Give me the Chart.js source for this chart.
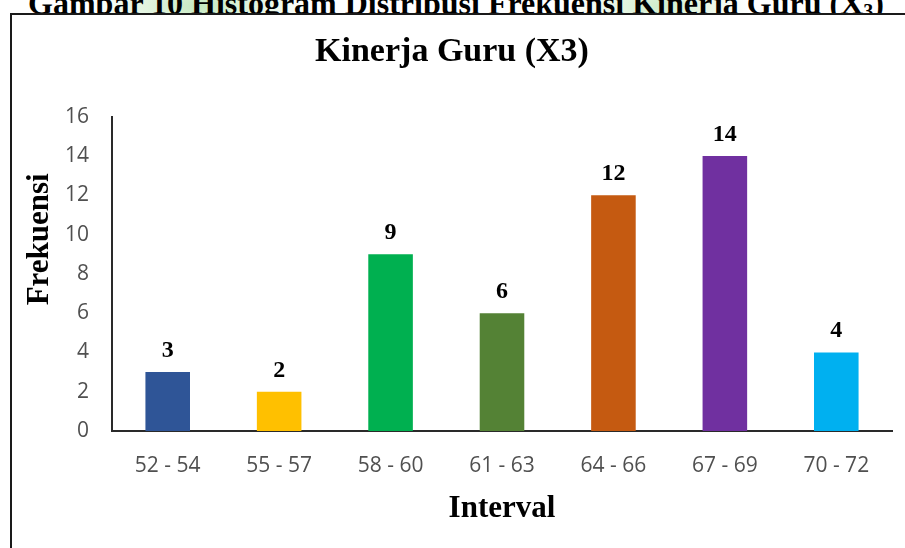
<!DOCTYPE html>
<html>
<head>
<meta charset="utf-8">
<script src="https://cdn.jsdelivr.net/npm/chart.js@4.4.1/dist/chart.umd.min.js"></script>
<style>
  html, body { margin: 0; padding: 0; width: 905px; height: 548px; overflow: hidden; background: #ffffff; }
  #strip {
    position: absolute; left: 0; top: 0; width: 905px; height: 14px;
    background:
      radial-gradient(ellipse 110px 40px at 200px 6px, rgba(150, 215, 140, 0.55), rgba(150, 215, 140, 0) 100%),
      radial-gradient(ellipse 90px 40px at 660px 6px, rgba(150, 215, 140, 0.45), rgba(150, 215, 140, 0) 100%),
      #ffffff;
  }
  #caption {
    position: absolute; left: -4px; top: -13px; width: 920px; text-align: center;
    font-family: "Liberation Serif", "DejaVu Serif", serif; font-weight: bold;
    font-size: 32px; line-height: 32px; color: #000; white-space: nowrap;
  }
  #caption sub { font-size: 20px; vertical-align: -4px; line-height: 0; }
  #frame {
    position: absolute; left: 10px; top: 13px; width: 900px; height: 540px;
    border-left: 2px solid #1a1a1a; border-top: 2px solid #1a1a1a; background: #ffffff;
  }
  #chart { position: absolute; left: 0; top: 0; }
</style>
</head>
<body>
<div id="strip"></div>
<div id="caption">Gambar 10 Histogram Distribusi Frekuensi Kinerja Guru (X<sub>3</sub>)</div>
<div id="frame"></div>
<canvas id="chart" width="905" height="548"></canvas>
<script>
// Score intervals and how many teachers fall into each
const intervals = ["52 - 54", "55 - 57", "58 - 60", "61 - 63", "64 - 66", "67 - 69", "70 - 72"];
const frequencies = [3, 2, 9, 6, 12, 14, 4];
const barColors = ["#2F5597", "#FFC000", "#00B050", "#548235", "#C55A11", "#7030A0", "#00B0F0"];
const yTicks = [0, 2, 4, 6, 8, 10, 12, 14, 16];
const yTitle = "Frekuensi";

const serif = '"Liberation Serif", "DejaVu Serif", serif';
const sans = '"Open Sans", "Liberation Sans", sans-serif';

// Writes each bar's count just above its top
const valueLabels = {
  id: "valueLabels",
  afterDatasetsDraw(chart) {
    const ctx = chart.ctx;
    const meta = chart.getDatasetMeta(0);
    ctx.save();
    ctx.font = "bold 24px " + serif;
    ctx.fillStyle = "#000000";
    ctx.textAlign = "center";
    ctx.textBaseline = "alphabetic";
    meta.data.forEach((bar, i) => {
      ctx.fillText(String(chart.data.datasets[0].data[i]), bar.x, bar.y - 15);
    });
    ctx.restore();
  }
};

// Vertical axis caption, sitting a little above the middle of the axis
const yAxisCaption = {
  id: "yAxisCaption",
  afterDraw(chart) {
    const ctx = chart.ctx;
    const area = chart.chartArea;
    ctx.save();
    ctx.translate(40, area.top + (area.bottom - area.top) * 0.39);
    ctx.rotate(-Math.PI / 2);
    ctx.font = "bold 31px " + serif;
    ctx.fillStyle = "#000000";
    ctx.textAlign = "center";
    ctx.textBaseline = "middle";
    ctx.fillText(yTitle, 0, 0);
    ctx.restore();
  }
};

new Chart(document.getElementById("chart"), {
  type: "bar",
  data: {
    labels: intervals,
    datasets: [{
      data: frequencies,
      backgroundColor: barColors,
      borderWidth: 0,
      barPercentage: 0.4,
      categoryPercentage: 1.0
    }]
  },
  options: {
    responsive: false,
    animation: false,
    events: [],
    layout: { padding: { left: 12, right: 13, top: 0, bottom: 0 } },
    plugins: {
      legend: { display: false },
      tooltip: { enabled: false },
      title: {
        display: true,
        text: "Kinerja Guru (X3)",
        color: "#000000",
        font: { family: serif, size: 34, weight: "bold", lineHeight: 1.2 },
        padding: { top: 32, bottom: 44 }
      }
    },
    scales: {
      x: {
        grid: { display: false, drawTicks: false },
        border: { display: true, color: "#2a2a2a", width: 2 },
        ticks: { color: "#505050", font: { family: sans, size: 21 }, padding: 22 },
        title: {
          display: true,
          text: "Interval",
          color: "#000000",
          font: { family: serif, size: 31, weight: "bold", lineHeight: 1.2 },
          padding: { top: 0, bottom: 20 }
        },
        afterFit(scale) { scale.height = 117; }
      },
      y: {
        min: 0,
        max: 16,
        afterBuildTicks(scale) { scale.ticks = yTicks.map(v => ({ value: v })); },
        grid: { display: false, drawTicks: false },
        border: { display: true, color: "#2a2a2a", width: 2 },
        ticks: { color: "#505050", font: { family: sans, size: 21 }, padding: 23 },
        title: { display: false },
        afterFit(scale) { scale.width = 100; }
      }
    }
  },
  plugins: [valueLabels, yAxisCaption]
});
</script>
</body>
</html>
